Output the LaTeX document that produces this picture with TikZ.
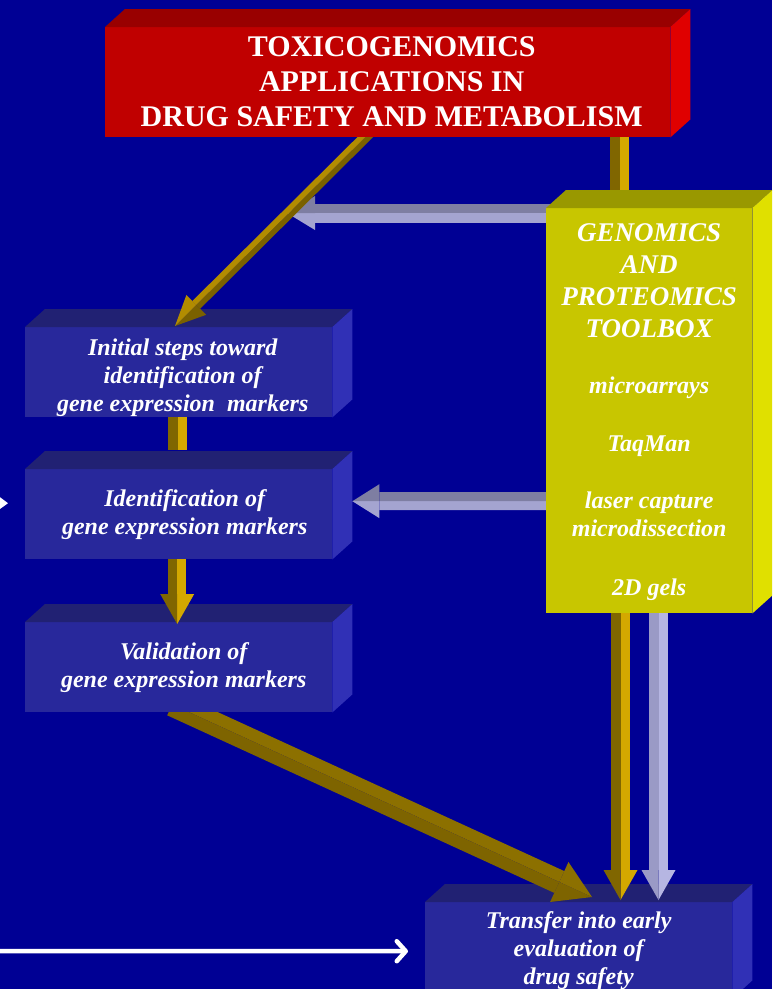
\documentclass[tikz,border=0pt]{standalone}
\usepackage{fontspec}
\setmainfont{Liberation Serif}
\usetikzlibrary{calc,arrows.meta}

\definecolor{bg}{RGB}{0,0,148}
\definecolor{redfront}{RGB}{192,0,0}
\definecolor{redtop}{RGB}{153,0,0}
\definecolor{redside}{RGB}{224,0,0}
\definecolor{yelfront}{RGB}{200,198,0}
\definecolor{yeltop}{RGB}{153,152,0}
\definecolor{yelside}{RGB}{224,224,0}
\definecolor{bluefront}{RGB}{40,40,155}
\definecolor{bluetop}{RGB}{33,33,115}
\definecolor{blueside}{RGB}{48,48,182}
\definecolor{golddark}{RGB}{128,102,0}
\definecolor{goldlight}{RGB}{212,168,0}
\definecolor{goldface}{RGB}{178,140,0}
\definecolor{goldedge}{RGB}{122,97,0}
\definecolor{olivelight}{RGB}{140,112,0}
\definecolor{olivedark}{RGB}{126,100,0}
\definecolor{lavdark}{RGB}{126,126,162}
\definecolor{lavlight}{RGB}{164,164,208}
\definecolor{lavvdark}{RGB}{154,154,198}
\definecolor{lavvlight}{RGB}{182,182,226}

\pgfdeclarelayer{bglayer}
\pgfdeclarelayer{lowboxes}
\pgfdeclarelayer{lowarrows}
\pgfdeclarelayer{midboxes}
\pgfdeclarelayer{arrows}
\pgfsetlayers{bglayer,lowboxes,lowarrows,midboxes,arrows,main}

% top and right faces of a box whose front face is node #1
\newcommand\cubefaces[3]{%
  \fill[#2] (#1.north west) -- ++(20,-18) -- ([shift={(20,-18)}]#1.north east) -- (#1.north east) -- cycle;
  \fill[#3] (#1.north east) -- ++(20,-18) -- ([shift={(20,-18)}]#1.south east) -- (#1.south east) -- cycle;}

% two-tone block arrow: start, tip, shaft half width, head length, head half width,
% colour of the side at +90 degrees, colour of the side at -90 degrees
\newcommand\blockarr[7]{%
  \coordinate (ba-h) at ($(#2)!#4!(#1)$);
  \fill[#6] (#1) -- ($(#1)!#3!90:(#2)$) -- ($(ba-h)!#3!90:(#2)$) -- (ba-h) -- cycle;
  \fill[#7] (#1) -- ($(#1)!#3!-90:(#2)$) -- ($(ba-h)!#3!-90:(#2)$) -- (ba-h) -- cycle;
  \fill[#6] (ba-h) -- ($(ba-h)!#5!90:(#2)$) -- (#2) -- cycle;
  \fill[#7] (ba-h) -- ($(ba-h)!#5!-90:(#2)$) -- (#2) -- cycle;}

% two-tone bar without a head: start, end, half width, colours as above
\newcommand\blockbar[5]{%
  \fill[#4] (#1) -- ($(#1)!#3!90:(#2)$) -- ($(#2)!#3!-90:(#1)$) -- (#2) -- cycle;
  \fill[#5] (#1) -- ($(#1)!#3!-90:(#2)$) -- ($(#2)!#3!90:(#1)$) -- (#2) -- cycle;}

\tikzset{
  front/.style={rectangle, inner sep=0pt, anchor=north west},
  bluebox/.style={front, fill=bluefront, minimum width=307pt, minimum height=90pt},
  lbl/.style={text=white, inner sep=0pt, align=center,
    font=\fontsize{24}{28}\selectfont\bfseries\itshape},
  hdlbl/.style={text=white, inner sep=0pt, align=center,
    font=\fontsize{27}{32}\selectfont\bfseries\itshape},
  titlelbl/.style={text=white, inner sep=0pt, align=center,
    font=\fontsize{30}{35}\selectfont\bfseries},
}

\begin{document}
\begin{tikzpicture}[x=1pt,y=-1pt]
\useasboundingbox (0,0) rectangle (772,989);
\clip (0,0) rectangle (772,989);
\begin{pgfonlayer}{bglayer}
  \fill[bg] (0,0) rectangle (772,989);
\end{pgfonlayer}

% boxes
\begin{pgfonlayer}{lowboxes}
  \node[bluebox, minimum height=96pt] (transfer) at (425,902) {};
  \cubefaces{transfer}{bluetop}{blueside}
  \node[bluebox] (init) at (25,327) {};
  \cubefaces{init}{bluetop}{blueside}
  \node[bluebox] (ident) at (25,469) {};
  \cubefaces{ident}{bluetop}{blueside}
\end{pgfonlayer}
\begin{pgfonlayer}{midboxes}
  \node[bluebox] (valid) at (25,622) {};
  \cubefaces{valid}{bluetop}{blueside}
\end{pgfonlayer}

\node[front, fill=redfront, minimum width=565pt, minimum height=110pt] (title) at (105,27) {};
\cubefaces{title}{redtop}{redside}
\node[front, fill=yelfront, minimum width=206pt, minimum height=405pt] (tool) at (546,208) {};
\cubefaces{tool}{yeltop}{yelside}

% labels
\node[titlelbl] (title-text) at ($(title.center)+(4,0)$)
  {TOXICOGENOMICS\\APPLICATIONS IN\\DRUG SAFETY AND METABOLISM};
\node[hdlbl] (tool-head) at ($(tool.north)+(0,73)$)
  {GENOMICS\\AND\\PROTEOMICS\\TOOLBOX};
\node[lbl, anchor=base] (tool-arrays) at ($(tool.north)+(0,185)$) {microarrays};
\node[lbl, anchor=base] (tool-taqman) at ($(tool.north)+(0,243)$) {TaqMan};
\node[lbl] (tool-lcm) at ($(tool.north)+(0,306)$) {laser capture\\microdissection};
\node[lbl, anchor=base] (tool-gels) at ($(tool.north)+(0,387)$) {2D gels};
\node[lbl] (init-text) at ($(init.center)+(4,6)$)
  {Initial steps toward\\identification of\\gene expression~ markers};
\node[lbl] (ident-text) at ($(ident.center)+(6,0)$)
  {Identification of\\gene expression markers};
\node[lbl] (valid-text) at ($(valid.center)+(5,0)$)
  {Validation of\\gene expression markers};
\node[lbl] (transfer-text) at ($(transfer.center)+(0,0.5)$)
  {Transfer into early\\evaluation of\\drug safety};

% connectors
\begin{pgfonlayer}{lowarrows}
  \blockarr{$(valid.south)+(-6.5,-8)$}{$(transfer.north west)+(167,-5)$}{12pt}{36pt}{22pt}{olivelight}{olivedark}
\end{pgfonlayer}
\begin{pgfonlayer}{arrows}
  \coordinate (lav-end) at (287,213);
  \blockarr{$(tool.north west)+(10,5)$}{lav-end}{9.5pt}{28pt}{17pt}{lavlight}{lavdark}
  \blockarr{$(title.south west)+(270,-10)$}{$(init.north west)+(150,-1)$}{5.5pt}{30pt}{14pt}{goldedge}{goldface}
  \blockbar{$(title.south west)+(514.5,-5)$}{$(tool.north west)+(73.5,-17)$}{9.5pt}{goldlight}{golddark}
  \blockbar{$(init.south)+(-1,0)$}{$(ident.north)+(-1,-19)$}{9.5pt}{goldlight}{golddark}
  \blockarr{$(ident.south)+(-1.5,0)$}{$(valid.north)+(-1.5,2)$}{9pt}{30pt}{17pt}{goldlight}{golddark}
  \blockarr{$(tool.north west)+(10,293)$}{$(ident.east)+(20,-13)$}{9pt}{27pt}{17pt}{lavlight}{lavdark}
  \blockarr{$(tool.south west)+(74.5,-13)$}{$(transfer.north west)+(195.5,-2)$}{9.5pt}{30pt}{17pt}{goldlight}{golddark}
  \blockarr{$(tool.south west)+(112.5,-13)$}{$(transfer.north west)+(233.5,-2)$}{9.5pt}{30pt}{17pt}{lavvlight}{lavvdark}
\end{pgfonlayer}

% incoming white arrows
\coordinate (in-low) at (-10,951);
\draw[white, line width=4.5pt, -{Straight Barb[length=9pt,width=20pt,round]}]
  (in-low) -- ($(transfer.west)+(-17,1)$);
\coordinate (in-mid) at (-12,503);
\draw[white, line width=1pt, -{Triangle[length=9pt,width=13pt]}]
  (in-mid) -- ($(ident.west)+(-17,-11)$);
\end{tikzpicture}
\end{document}
